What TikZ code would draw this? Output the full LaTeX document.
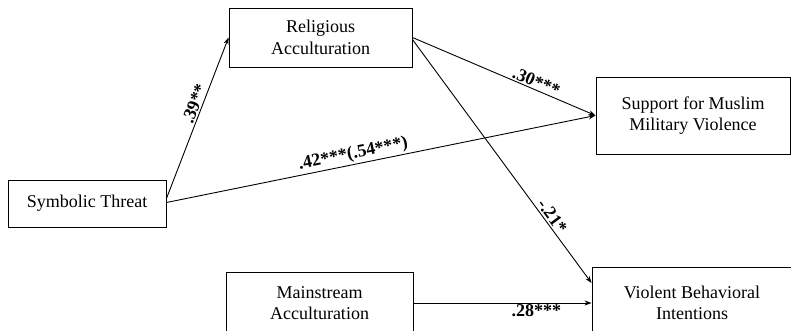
\documentclass[tikz,border=0pt]{standalone}
\usepackage{fontspec}
\setmainfont{Liberation Serif}
\usetikzlibrary{arrows.meta,calc}
\begin{document}
\begin{tikzpicture}[x=1pt,y=-1pt,
  box/.style={draw, line width=0.9pt, align=center, inner sep=0pt, font=\fontsize{18}{21.5}\selectfont},
  conn/.style={-{Stealth[length=7pt,width=5pt]}, line width=0.9pt},
  lab/.style={font=\fontsize{18}{20}\selectfont\bfseries, sloped, inner sep=1.5pt}]
\useasboundingbox (0,0) rectangle (791,331);
\node[box, minimum width=183pt, minimum height=59pt] (rel) at (320.5,37.5) {Religious\\Acculturation};
\node[box, minimum width=158pt, minimum height=47pt] (sym) at (87,203.5) {Symbolic Threat};
\node[box, minimum width=194pt, minimum height=77pt] (sup) at (693,115.5) {Support for Muslim\\Military Violence};
\node[box, minimum width=187pt, minimum height=62pt] (main) at (319.5,303) {Mainstream\\Acculturation};
\node[box, minimum width=200pt, minimum height=72pt] (vio) at (692,303) {Violent Behavioral\\Intentions};
\draw[conn] ($(sym.east)+(0,-5)$) -- (rel.west) node[lab,pos=0.57,above]{.39**};
\draw[conn] ($(sym.east)+(0,-1)$) -- (sup.west) node[lab,pos=0.44,above]{.42***(.54***)};
\draw[conn] (rel.east) -- (sup.west) node[lab,pos=0.66,above]{.30***};
\draw[conn] ($(rel.east)+(0,2)$) -- ($(vio.west)+(0,-20)$) node[lab,pos=0.745,above]{-.21*};
\draw[conn] (main.east) -- (vio.west) node[lab,pos=0.69,below]{.28***};
\end{tikzpicture}
\end{document}
